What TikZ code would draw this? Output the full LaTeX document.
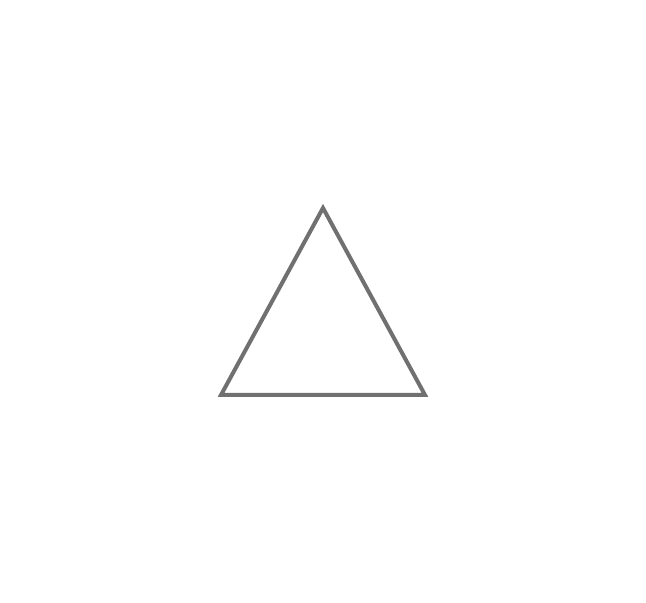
\documentclass[tikz,border=0pt]{standalone}
\definecolor{trigray}{HTML}{707070}
\tikzset{tri/.style={draw=trigray,line width=4pt,line join=miter}}
\begin{document}
\begin{tikzpicture}[x=1pt,y=1pt]
\useasboundingbox (0,0) rectangle (646,603);
\coordinate (A) at (323,395);
\coordinate (B) at (221,208);
\coordinate (C) at (425,208);
\draw[tri] (A) -- (B) -- (C) -- cycle;
\end{tikzpicture}
\end{document}
